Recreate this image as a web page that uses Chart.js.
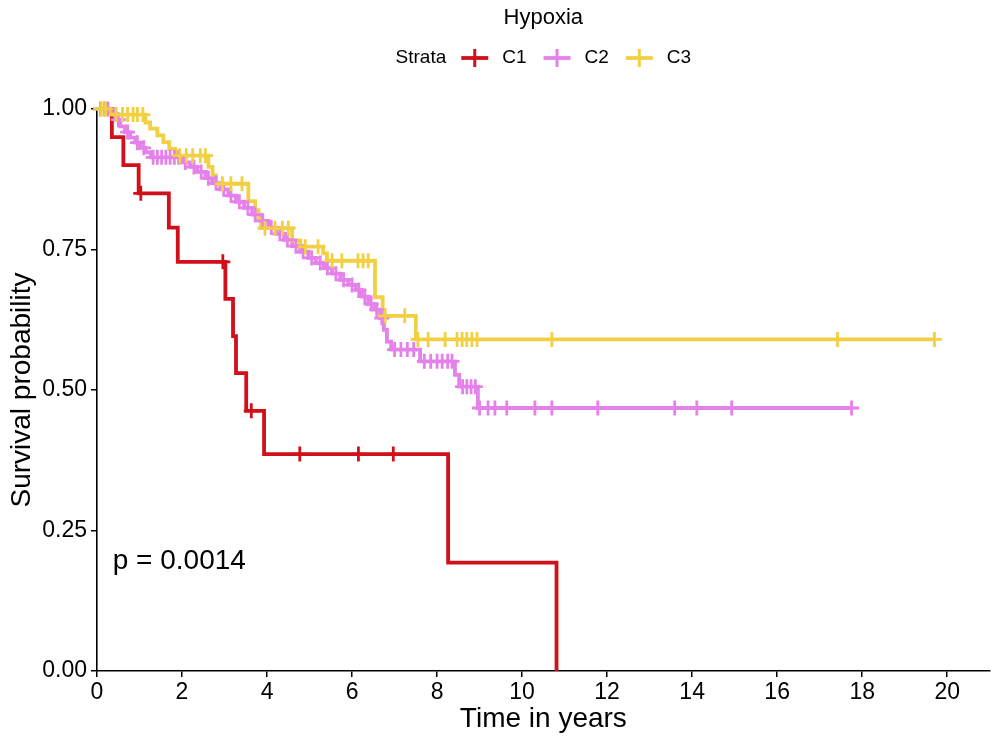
<!DOCTYPE html>
<html><head><meta charset="utf-8">
<script src="https://cdn.jsdelivr.net/npm/chart.js@4.4.1/dist/chart.umd.min.js"></script>
<style>html,body{margin:0;padding:0;background:#fff;}#wrap{width:1000px;height:743px;}</style>
</head><body><div id="wrap"><canvas id="c" width="1000" height="743"></canvas></div>
<script>
// ---- data ----
const chartTitle = 'Hypoxia';
const legendTitle = 'Strata';
const strata = ['C1', 'C2', 'C3'];
const strataColors = ['#D0101A', '#E581EA', '#F2D043'];
const pValueText = 'p = 0.0014';

const c1EventTimes = [0.35, 0.62, 0.98, 1.69, 1.90, 3.02, 3.20, 3.27, 3.51, 3.93, 8.26, 10.81];
const c1Surv       = [0.950, 0.900, 0.850, 0.789, 0.728, 0.662, 0.596, 0.530, 0.463, 0.386, 0.193, 0.000];
const c1Censor     = [1.03, 2.96, 3.63, 4.77, 6.15, 6.97];
const c1End        = 10.81;

const c2EventTimes = [0.31, 0.43, 0.55, 0.66, 0.78, 0.90, 1.02, 1.14, 1.27, 2.00, 2.19, 2.36, 2.55, 2.71, 2.90, 3.09, 3.27, 3.46, 3.65, 3.84, 4.03, 4.21, 4.40, 4.59, 4.78, 4.97, 5.15, 5.34, 5.53, 5.72, 5.91, 6.09, 6.23, 6.38, 6.52, 6.66, 6.75, 6.82, 6.92, 7.60, 8.42, 8.52, 8.96];
const c2Surv       = [0.993, 0.981, 0.969, 0.959, 0.949, 0.940, 0.931, 0.923, 0.914, 0.905, 0.897, 0.888, 0.877, 0.868, 0.857, 0.846, 0.835, 0.824, 0.812, 0.801, 0.789, 0.778, 0.767, 0.756, 0.746, 0.735, 0.726, 0.717, 0.707, 0.696, 0.687, 0.678, 0.666, 0.653, 0.643, 0.628, 0.607, 0.586, 0.572, 0.551, 0.527, 0.506, 0.468];
const c2Censor     = [0.08, 0.18, 0.26, 0.50, 0.72, 0.95, 1.10, 1.32, 1.42, 1.52, 1.62, 1.72, 1.82, 1.92, 2.08, 2.28, 2.45, 2.62, 2.80, 2.98, 3.15, 3.35, 3.55, 3.72, 3.90, 4.10, 4.30, 4.48, 4.68, 4.85, 5.05, 5.25, 5.42, 5.62, 5.80, 6.00, 6.16, 6.30, 6.45, 6.58, 6.70, 7.00, 7.15, 7.30, 7.45, 7.70, 7.85, 8.00, 8.12, 8.25, 8.35, 8.60, 8.70, 8.80, 8.90, 9.00, 9.20, 9.36, 9.64, 10.30, 10.70, 11.78, 13.59, 14.11, 14.93, 17.75];
const c2End        = 17.75;

const c3EventTimes = [0.30, 1.14, 1.25, 1.42, 1.56, 1.70, 1.84, 2.62, 2.72, 2.80, 3.56, 3.72, 3.80, 3.86, 4.59, 4.78, 5.32, 5.41, 6.54, 6.72, 7.50];
const c3Surv       = [0.990, 0.976, 0.965, 0.953, 0.941, 0.929, 0.917, 0.897, 0.882, 0.867, 0.836, 0.820, 0.803, 0.788, 0.766, 0.755, 0.743, 0.730, 0.665, 0.632, 0.590];
const c3Censor     = [0.10, 0.20, 0.45, 0.60, 0.72, 0.85, 0.95, 1.08, 1.95, 2.10, 2.25, 2.43, 2.55, 2.95, 3.15, 3.41, 3.95, 4.19, 4.36, 4.50, 4.90, 5.20, 5.53, 5.76, 6.14, 6.26, 6.38, 6.78, 7.24, 7.55, 7.79, 8.19, 8.47, 8.59, 8.70, 8.82, 8.94, 10.70, 17.42, 19.70];
const c3End        = 19.70;

const xTicks = [0, 2, 4, 6, 8, 10, 12, 14, 16, 18, 20];
const yTicks = [0, 0.25, 0.5, 0.75, 1];
const xTitle = 'Time in years';
const yTitle = 'Survival probability';

// ---- build ----
const FONT = '"Liberation Sans", Arial, Helvetica, sans-serif';
function stepLine(times, surv, end) {
  const pts = [{x: 0, y: 1}];
  times.forEach((t, i) => pts.push({x: t, y: surv[i]}));
  const last = pts[pts.length - 1];
  if (end > last.x) pts.push({x: end, y: last.y});
  return pts;
}
function survAt(times, surv, t) {
  let s = 1;
  for (let i = 0; i < times.length; i++) if (times[i] <= t) s = surv[i];
  return s;
}
function censorPts(times, surv, cens) {
  return cens.map(t => ({x: t, y: survAt(times, surv, t)}));
}
const series = [
  [c1EventTimes, c1Surv, c1Censor, c1End],
  [c2EventTimes, c2Surv, c2Censor, c2End],
  [c3EventTimes, c3Surv, c3Censor, c3End]
];
const datasets = [];
series.forEach((s, i) => {
  datasets.push({
    label: strata[i], data: stepLine(s[0], s[1], s[3]), showLine: true, stepped: 'before',
    borderColor: strataColors[i], borderWidth: 3.8, pointRadius: 0, fill: false,
    clip: false, order: 10 - i
  });
});
series.forEach((s, i) => {
  datasets.push({
    label: strata[i] + ' censored', data: censorPts(s[0], s[1], s[2]), showLine: false,
    pointStyle: 'cross', pointRadius: 7.5, pointBorderWidth: 2.8,
    borderColor: strataColors[i], backgroundColor: strataColors[i],
    clip: false, order: 5 - i
  });
});

const annot = {
  id: 'annot',
  afterDraw(chart) {
    const ctx = chart.ctx, ca = chart.chartArea;
    const xs = chart.scales.x, ys = chart.scales.y;
    ctx.save();
    ctx.fillStyle = '#000';
    ctx.textBaseline = 'middle';
    const cx = (ca.left + ca.right) / 2;
    ctx.font = '22px ' + FONT;
    ctx.textAlign = 'center';
    ctx.fillText(chartTitle, cx, 18);
    // legend
    ctx.font = '19px ' + FONT;
    const keyW = 27, gapKey = 14, gapItem = 17, gapTitle = 15;
    const wT = ctx.measureText(legendTitle).width;
    let total = wT + gapTitle;
    strata.forEach((s, i) => { total += keyW + gapKey + ctx.measureText(s).width + (i < strata.length - 1 ? gapItem : 0); });
    let x = cx - total / 2;
    const ly = 58;
    ctx.textAlign = 'left';
    ctx.fillText(legendTitle, x, ly);
    x += wT + gapTitle;
    strata.forEach((s, i) => {
      ctx.strokeStyle = strataColors[i];
      ctx.lineWidth = 3.8;
      ctx.beginPath(); ctx.moveTo(x, ly); ctx.lineTo(x + keyW, ly); ctx.stroke();
      ctx.lineWidth = 3;
      ctx.beginPath(); ctx.moveTo(x + keyW / 2, ly - 9); ctx.lineTo(x + keyW / 2, ly + 9); ctx.stroke();
      x += keyW + gapKey;
      ctx.fillStyle = '#000';
      ctx.fillText(s, x, ly);
      x += ctx.measureText(s).width + gapItem;
    });
    // p-value
    ctx.font = '28px ' + FONT;
    ctx.textAlign = 'left';
    ctx.fillText(pValueText, xs.getPixelForValue(0.37), ys.getPixelForValue(0.195));
    ctx.restore();
  }
};

new Chart(document.getElementById('c'), {
  type: 'scatter',
  data: {datasets},
  plugins: [annot],
  options: {
    responsive: false, animation: false, devicePixelRatio: 1,
    layout: {padding: {top: 109, right: 10, bottom: 0, left: 0}},
    plugins: {legend: {display: false}, tooltip: {enabled: false}, title: {display: false}},
    scales: {
      x: {
        type: 'linear', min: 0, max: 21, position: 'bottom',
        afterFit: s => { s.height = 72; },
        afterBuildTicks: s => { s.ticks = xTicks.map(v => ({value: v})); },
        ticks: {color: '#000', font: {size: 23, family: '"Liberation Sans Narrow", "Liberation Sans", Arial, sans-serif'}, padding: 2, maxRotation: 0, autoSkip: false},
        grid: {display: true, drawOnChartArea: false, drawTicks: true, tickLength: 6, color: '#000', lineWidth: 1.5},
        border: {display: true, color: '#000', width: 1.6},
        title: {display: true, text: xTitle, color: '#000', font: {size: 28, family: FONT}, padding: {top: 0, bottom: 7}}
      },
      y: {
        type: 'linear', min: 0, max: 1, position: 'left',
        afterFit: s => { s.width = 97; },
        afterBuildTicks: s => { s.ticks = yTicks.map(v => ({value: v})); },
        ticks: {color: '#000', font: {size: 23, family: FONT}, padding: 4, callback: v => Number(v).toFixed(2)},
        grid: {display: true, drawOnChartArea: false, drawTicks: true, tickLength: 6, color: '#000', lineWidth: 1.5},
        border: {display: true, color: '#000', width: 1.6},
        title: {display: true, text: yTitle, color: '#000', font: {size: 28, family: FONT}, padding: {top: 5, bottom: 0}}
      }
    }
  }
});
</script></body></html>
